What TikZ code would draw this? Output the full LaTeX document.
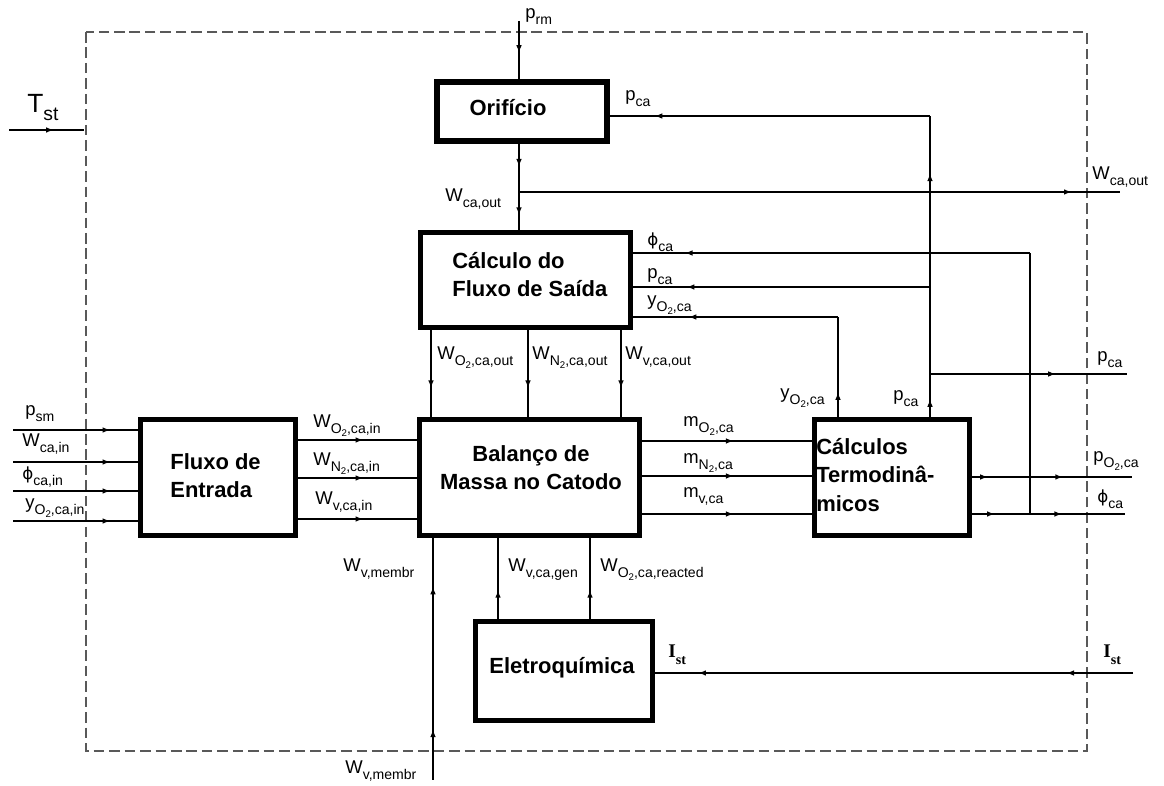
\documentclass[tikz,border=0pt]{standalone}
\usepackage{fontspec}
\setmainfont{Liberation Sans}
\newfontfamily\serifF{Liberation Serif}
\newfontfamily\dejavu{DejaVu Sans}
\usetikzlibrary{arrows.meta,decorations.markings,fit}
\newcommand\lb[2]{#1\raisebox{-0.28em}{\fontsize{8}{8}\selectfont #2}}
\newcommand\two{\raisebox{-0.25em}{\fontsize{5.5}{5.5}\selectfont 2}}
\newcommand\phis{{\dejavu\fontsize{9.5}{12}\selectfont ϕ}}
\begin{document}
\begin{tikzpicture}[x=0.02cm,y=-0.02cm,
  box/.style={draw, line width=2.9pt, inner sep=0pt},
  wire/.style={line width=0.9pt},
  am/.style={postaction={decorate,decoration={markings,mark=at position #1 with {\arrow{Latex[length=4.5pt,width=3.2pt]}}}}},
  lab/.style={anchor=base west, inner sep=0pt, font=\fontsize{10.5}{12}\selectfont},
  btext/.style={align=left, inner sep=0pt, font=\bfseries\fontsize{12.5}{16}\selectfont},
  frame/.style={draw=black!65, dash pattern=on 6pt off 2.8pt, line width=1pt}]
\useasboundingbox (0,0) rectangle (1164,786);
\draw[frame] (86,32) rectangle (1087,751);

% boxes
\node[box, fit={(437,82) (607,141)}] (orif) {};
\node[box, fit={(420.5,232.5) (630.5,327.5)}] (saida) {};
\node[box, fit={(419.5,419.5) (639.5,535.5)}] (bal) {};
\node[box, fit={(140.5,419.5) (295.5,535.5)}] (ent) {};
\node[box, fit={(814.5,419.5) (969.5,535.5)}] (calc) {};
\node[box, fit={(475.5,621.5) (652.5,720.5)}] (elec) {};

\node[btext] (orifT) at (508,108) {Orifício};
\node[btext, anchor=west] (saidaT) at (452,275) {Cálculo do\\Fluxo de Saída};
\node[btext, align=center] (balT) at (531,468) {Balanço de\\Massa no Catodo};
\node[btext, anchor=west] (entT) at (170,476) {Fluxo de\\Entrada};
\node[btext, anchor=west] (calcT) at (816,475) {Cálculos\\Termodinâ-\\micos};
\node[btext] (elecT) at (562,668) {Eletroquímica};

% T_st
\coordinate (tA) at (9,130); \coordinate (tB) at (84,130);
\draw[wire, am=0.6] (tA) -- (tB);
\node[lab, font=\fontsize{15}{16}\selectfont] (tstL) at (27,113) {T\raisebox{-0.3em}{\fontsize{11}{11}\selectfont st}};

% p_rm
\coordinate (prmA) at (519,21);
\draw[wire, am=0.55] (prmA) -- (orif.north -| prmA);
\node[lab] (prmL) at (525,19) {\lb{p}{rm}};

% orifice -> saida and W_ca,out branch
\coordinate (cX) at (519,192); \coordinate (wOut) at (1120,192);
\draw[wire, am=0.27, am=0.83] (orif.south -| cX) -- (saida.north -| cX);
\draw[wire, am=0.92] (cX) -- (wOut);
\node[lab] (wcoL) at (445,202) {\lb{W}{ca,out}};
\node[lab] (wcoR) at (1092,180) {\lb{W}{ca,out}};

% p_ca feedback to orifice
\coordinate (pcX) at (930,116);
\draw[wire, am=0.06, am=0.81] (calc.north -| pcX) -- (pcX);
\draw[wire, am=0.86] (pcX) -- (orif.east |- pcX);
\node[lab] (pcaO) at (625,101) {\lb{p}{ca}};

% inputs to saida
\coordinate (phB) at (1030,514); \coordinate (phT) at (1030,253);
\draw[wire] (phB) -- (phT);
\draw[wire, am=0.87] (phT) -- (saida.east |- phT);
\coordinate (pcS) at (930,287);
\draw[wire, am=0.82] (pcS) -- (saida.east |- pcS);
\coordinate (yX) at (838,317);
\draw[wire, am=0.25] (calc.north -| yX) -- (yX);
\draw[wire, am=0.73] (yX) -- (saida.east |- yX);
\node[lab] (phS) at (647,246) {\lb{\phis}{ca}};
\node[lab] (pcSL) at (647,279) {\lb{p}{ca}};
\node[lab] (ySL) at (647,306) {\lb{y}{O\two,ca}};

% p_ca right branch
\coordinate (pcR) at (930,374); \coordinate (pcRE) at (1127,374);
\draw[wire, am=0.64] (pcR) -- (pcRE);
\node[lab] (pcRL) at (1097,362) {\lb{p}{ca}};
\node[lab] (yCL) at (780,399) {\lb{y}{O\two,ca}};
\node[lab] (pCL) at (893,401) {\lb{p}{ca}};

% saida -> balanco
\coordinate (x1) at (431,0); \coordinate (x2) at (528,0); \coordinate (x3) at (621,0);
\draw[wire, am=0.67] (saida.south -| x1) -- (bal.north -| x1);
\draw[wire, am=0.67] (saida.south -| x2) -- (bal.north -| x2);
\draw[wire, am=0.67] (saida.south -| x3) -- (bal.north -| x3);
\node[lab] (wo1) at (437,360) {\lb{W}{O\two,ca,out}};
\node[lab] (wo2) at (532,360) {\lb{W}{N\two,ca,out}};
\node[lab] (wo3) at (625,360) {\lb{W}{v,ca,out}};

% left inputs
\coordinate (i1) at (13,430); \coordinate (i2) at (13,462);
\coordinate (i3) at (13,491); \coordinate (i4) at (13,521);
\foreach \c in {i1,i2,i3,i4} \draw[wire, am=0.78] (\c) -- (ent.west |- \c);
\node[lab] (psmL) at (25,416) {\lb{p}{sm}};
\node[lab] (wciL) at (22,447) {\lb{W}{ca,in}};
\node[lab] (phiL) at (22,480) {\lb{\phis}{ca,in}};
\node[lab] (yinL) at (25,509) {\lb{y}{O\two,ca,in}};

% entrada -> balanco
\coordinate (e1) at (0,440); \coordinate (e2) at (0,478); \coordinate (e3) at (0,519);
\foreach \c in {e1,e2,e3} \draw[wire, am=0.55] (ent.east |- \c) -- (bal.west |- \c);
\node[lab] (we1) at (313,428) {\lb{W}{O\two,ca,in}};
\node[lab] (we2) at (313,466) {\lb{W}{N\two,ca,in}};
\node[lab] (we3) at (315,505) {\lb{W}{v,ca,in}};

% balanco -> calculos
\coordinate (m1) at (0,441); \coordinate (m2) at (0,476); \coordinate (m3) at (0,514);
\foreach \c in {m1,m2,m3} \draw[wire, am=0.54] (bal.east |- \c) -- (calc.west |- \c);
\node[lab] (mm1) at (683,427) {\lb{m}{O\two,ca}};
\node[lab] (mm2) at (683,464) {\lb{m}{N\two,ca}};
\node[lab] (mm3) at (683,498) {\lb{m}{v,ca}};

% calculos outputs
\coordinate (o1) at (1132,477); \coordinate (o2) at (1125,514);
\draw[wire, am=0.1, am=0.57] (calc.east |- o1) -- (o1);
\draw[wire, am=0.15, am=0.59] (calc.east |- o2) -- (o2);
\node[lab] (po2L) at (1093,462) {\lb{p}{O\two,ca}};
\node[lab] (phoL) at (1097,503) {\lb{\phis}{ca}};

% bottom
\coordinate (wm) at (433,780);
\draw[wire, am=0.21, am=0.8] (wm) -- (bal.south -| wm);
\coordinate (xg) at (498,0); \coordinate (xr) at (590,0);
\draw[wire, am=0.36] (elec.north -| xg) -- (bal.south -| xg);
\draw[wire, am=0.36] (elec.north -| xr) -- (bal.south -| xr);
\node[lab] (wmi) at (343,572) {\lb{W}{v,membr}};
\node[lab] (wmo) at (345,774) {\lb{W}{v,membr}};
\node[lab] (wg) at (508,572) {\lb{W}{v,ca,gen}};
\node[lab] (wr) at (600,572) {\lb{W}{O\two,ca,reacted}};

% I_st
\coordinate (iS) at (1133,673);
\draw[wire, am=0.14, am=0.91] (iS) -- (elec.east |- iS);
\node[lab, font=\serifF\bfseries\fontsize{11}{12}\selectfont] (ist1) at (668,658) {I\raisebox{-0.35em}{\fontsize{8}{8}\selectfont st}};
\node[lab, font=\serifF\bfseries\fontsize{11}{12}\selectfont] (ist2) at (1103,658) {I\raisebox{-0.35em}{\fontsize{8}{8}\selectfont st}};
\end{tikzpicture}
\end{document}
